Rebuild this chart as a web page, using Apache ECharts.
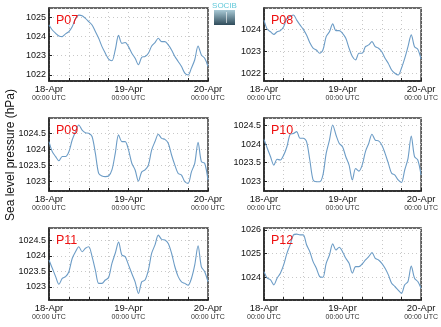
<!DOCTYPE html>
<html><head><meta charset="utf-8">
<script src="https://cdn.jsdelivr.net/npm/echarts@6/dist/echarts.min.js"></script>
<style>html,body{margin:0;padding:0;background:#fff}#c{width:441px;height:327px}</style>
</head><body><div id="c"></div>
<script>
// hours since 18-Apr 00:00 UTC
const hours = Array.from({length:49},(_,i)=>i);
const tickLabels = {0:'18-Apr',24:'19-Apr',48:'20-Apr'};
const stations = ['P07','P08','P09','P10','P11','P12'];
const p07 = [1024.59,1024.33,1024.16,1024.02,1023.99,1024.13,1024.25,1024.5,1024.9,1025.1,1025.07,1024.93,1024.76,1024.59,1024.25,1023.9,1023.47,1023.13,1022.82,1022.74,1023.3,1024.05,1023.64,1023.68,1023.47,1023.13,1022.87,1022.53,1022.92,1022.96,1023.13,1023.5,1023.68,1023.9,1023.73,1023.73,1023.56,1023.3,1022.96,1022.7,1022.44,1022.1,1022.0,1022.36,1022.79,1023.5,1023.04,1022.87,1022.44];
const p08 = [1024.42,1024.0,1023.89,1023.77,1023.89,1023.94,1024.12,1024.5,1024.58,1024.65,1024.42,1024.2,1024.0,1023.74,1023.39,1023.14,1023.06,1022.91,1023.06,1023.67,1023.89,1024.25,1023.94,1023.94,1023.82,1023.59,1023.14,1022.76,1022.61,1022.91,1022.91,1023.21,1023.29,1023.44,1023.21,1023.14,1022.98,1022.68,1022.45,1022.15,1022.0,1021.92,1022.23,1022.68,1023.21,1023.75,1023.21,1023.09,1022.64];
const p09 = [1024.24,1023.92,1023.77,1023.64,1023.77,1023.77,1023.92,1024.29,1024.55,1024.76,1024.6,1024.52,1024.5,1024.4,1023.87,1023.24,1023.16,1023.14,1023.16,1023.35,1023.87,1024.45,1024.24,1024.24,1023.98,1023.56,1023.35,1023.0,1023.29,1023.35,1023.5,1023.98,1024.24,1024.47,1024.34,1024.31,1024.19,1023.82,1023.5,1023.24,1023.19,1022.98,1022.93,1023.29,1023.56,1024.22,1023.61,1023.56,1023.03];
const p10 = [1024.13,1023.89,1023.66,1023.43,1023.59,1023.57,1023.7,1023.93,1024.27,1024.29,1024.34,1024.16,1024.16,1024.07,1023.57,1023.03,1022.98,1022.98,1023.16,1023.75,1024.11,1024.52,1024.25,1024.02,1023.93,1023.66,1023.43,1023.03,1023.34,1023.27,1023.43,1023.8,1024.02,1024.27,1024.11,1024.09,1023.98,1023.75,1023.48,1023.21,1023.16,1023.03,1022.96,1023.3,1023.61,1024.22,1023.66,1023.57,1023.16];
const p11 = [1023.87,1023.6,1023.33,1023.08,1023.27,1023.33,1023.49,1023.92,1024.14,1024.3,1024.14,1024.25,1024.3,1023.98,1023.54,1023.11,1023.11,1023.22,1023.3,1023.76,1024.09,1024.45,1024.03,1023.98,1023.71,1023.43,1023.16,1022.78,1023.16,1023.22,1023.54,1024.09,1024.36,1024.68,1024.54,1024.52,1024.41,1024.09,1023.65,1023.33,1023.16,1023.11,1023.05,1023.27,1023.71,1024.33,1023.65,1023.49,1023.16];
const p12 = [1024.24,1023.96,1023.89,1023.68,1023.96,1024.17,1024.52,1025.01,1025.37,1025.79,1025.82,1025.79,1025.79,1025.37,1025.08,1024.66,1024.38,1024.03,1024.0,1024.59,1024.94,1025.41,1025.15,1025.27,1025.08,1024.8,1024.59,1024.17,1024.45,1024.45,1024.56,1024.73,1024.87,1025.04,1024.8,1024.73,1024.59,1024.38,1024.1,1023.75,1023.61,1023.46,1023.32,1023.68,1023.82,1024.47,1023.96,1023.82,1023.54];
const seriesData = [p07,p08,p09,p10,p11,p12];
const yMin = [1021.69,1021.65,1022.69,1022.73,1022.57,1023.04];
const yMax = [1025.47,1024.97,1024.98,1024.71,1024.91,1026.08];
const yStep = [1,1,0.5,0.5,0.5,1];

const colLeft = [49,264], colRight = [233,19];
const rowTop = [8,118,228], rowH = [73,73,72];
const FONT = 'Liberation Sans, Arial, sans-serif';

const grids=[], xAxes=[], yAxes=[], series=[], titles=[];
stations.forEach((name,i)=>{
  const c=i%2, r=Math.floor(i/2);
  grids.push({left:colLeft[c], right:colRight[c], top:rowTop[r], height:rowH[r], show:true, borderColor:'#3a3a3a', borderWidth:1.5, backgroundColor:'#fff'});
  xAxes.push({type:'value', gridIndex:i, min:0, max:48, interval:6,
    axisLine:{show:true, lineStyle:{color:'#222', width:1.5}},
    axisTick:{show:true, inside:true, length:3, lineStyle:{color:'#222'}},
    splitLine:{show:true, lineStyle:{color:'#c8c8c8', type:[1,3], width:1}},
    axisLabel:{margin:3, formatter:v=>tickLabels[v]!==undefined?('{a|'+tickLabels[v]+'}\n{b|00:00 UTC}'):'',
      rich:{a:{fontSize:9.5, fontFamily:FONT, color:'#111', lineHeight:10},
            b:{fontSize:7, fontFamily:FONT, color:'#333', lineHeight:9}}}
  });
  yAxes.push({type:'value', gridIndex:i, min:yMin[i], max:yMax[i], minInterval:yStep[i], maxInterval:yStep[i],
    axisLine:{show:true, lineStyle:{color:'#222', width:1.5}},
    axisTick:{show:true, inside:true, length:3, lineStyle:{color:'#222'}},
    splitLine:{show:true, lineStyle:{color:'#c8c8c8', type:[1,3], width:1}},
    axisLabel:{showMinLabel:false, showMaxLabel:false, margin:3, fontSize:9, fontFamily:FONT, color:'#111',
      formatter:v=>String(Math.round(v*10)/10)}
  });
  series.push({type:'line', xAxisIndex:i, yAxisIndex:i, data:hours.map((h,k)=>[h,seriesData[i][k]]),
    showSymbol:false, smooth:0.3, lineStyle:{color:'#6c9cc6', width:1.1}, silent:true, animation:false});
  titles.push({text:name, left:colLeft[c]+2, top:rowTop[r]+1, textStyle:{fontSize:12.5, fontWeight:'normal', color:'#ee1111', fontFamily:FONT}});
});

const chart = echarts.init(document.getElementById('c'), null, {renderer:'canvas'});
chart.setOption({
  animation:false,
  title:titles, grid:grids, xAxis:xAxes, yAxis:yAxes, series:series,
  graphic:[
    {type:'text', x:11, y:155, rotation:Math.PI/2, style:{text:'Sea level pressure (hPa)', font:'12px '+FONT, fill:'#111', align:'center', verticalAlign:'middle'}},
    {type:'text', x:224.5, y:2, style:{text:'SOCIB', font:'8px '+FONT, fill:'#63c9da', align:'center'}},
    {type:'rect', shape:{x:214, y:10, width:21, height:15},
      style:{fill:new echarts.graphic.LinearGradient(0,0,0,1,[{offset:0,color:'#a9cad6'},{offset:1,color:'#2f4b5a'}])}},
    {type:'rect', shape:{x:226, y:12, width:1, height:11}, style:{fill:'rgba(255,255,255,0.6)'}}
  ]
});
</script></body></html>
